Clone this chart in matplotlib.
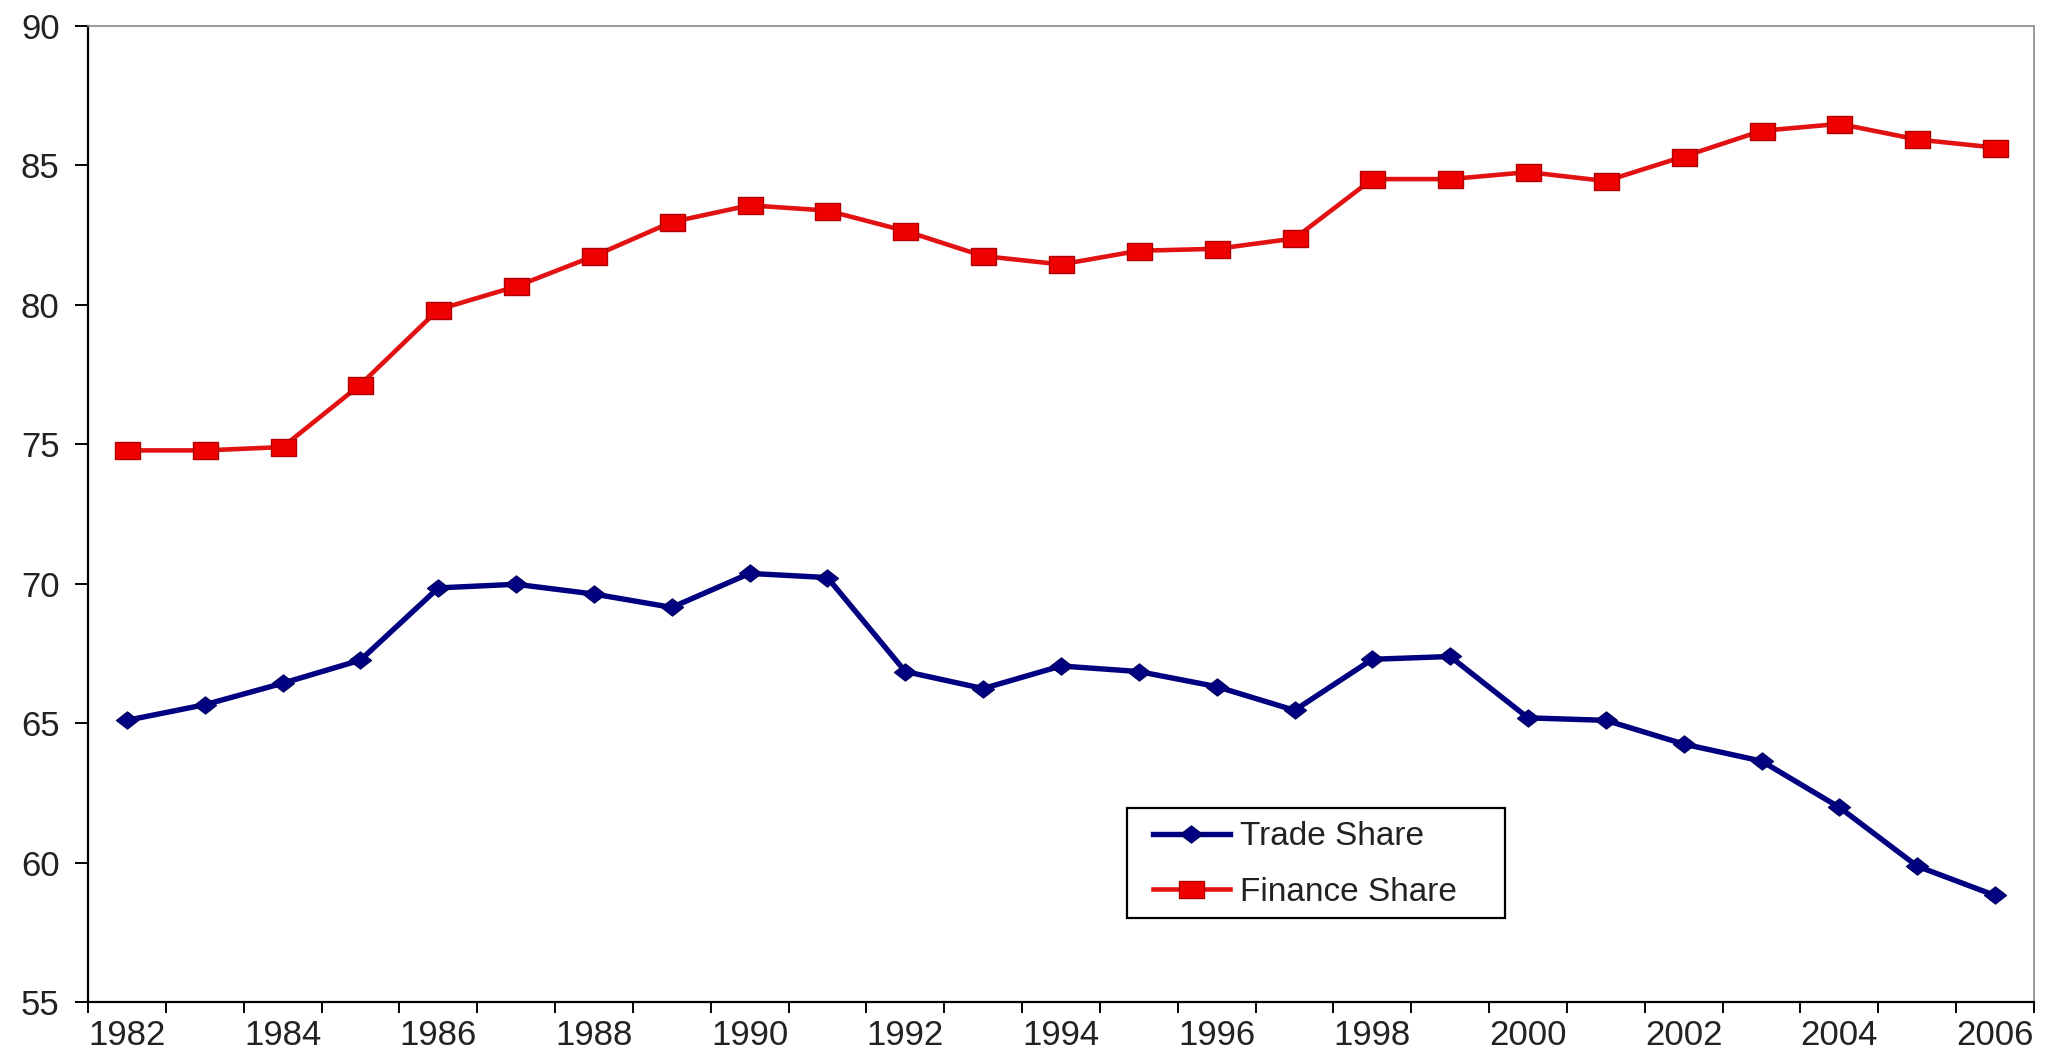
import numpy as np
import matplotlib
matplotlib.use("Agg")
import matplotlib.pyplot as plt
from matplotlib.path import Path
from matplotlib.patches import Rectangle

# -----------------------------------------------------
# data: trade share vs finance share, 1982-2006
# -----------------------------------------------------
years = list(range(1982, 2007))
trade_share = [65.1, 65.66, 66.43, 67.26, 69.85, 69.98, 69.63, 69.15, 70.37, 70.22,
               66.85, 66.24, 67.05, 66.85, 66.31, 65.46, 67.29, 67.39, 65.19, 65.1,
               64.25, 63.64, 61.98, 59.87, 58.82]
finance_share = [74.78, 74.78, 74.9, 77.14, 79.83, 80.66, 81.75, 82.97, 83.57, 83.38,
                 82.65, 81.75, 81.45, 81.94, 82.01, 82.38, 84.51, 84.51, 84.76, 84.44,
                 85.32, 86.24, 86.49, 85.93, 85.64]
y_ticks = [55, 60, 65, 70, 75, 80, 85, 90]

plt.rcParams["font.family"] = ["Liberation Sans", "DejaVu Sans"]

fig = plt.figure(figsize=(20.65, 10.63), dpi=100)
ax = fig.add_axes([88 / 2065, 1 - 1002 / 1063, (2034 - 88) / 2065, (1002 - 26) / 1063])

x = np.arange(len(years))

# wide square / flat diamond markers
rect_marker = Path([(-1, -0.68), (1, -0.68), (1, 0.68), (-1, 0.68), (-1, -0.68)],
                   [Path.MOVETO, Path.LINETO, Path.LINETO, Path.LINETO, Path.CLOSEPOLY])
diamond_marker = Path([(-1, 0), (0, 0.78), (1, 0), (0, -0.78), (-1, 0)],
                      [Path.MOVETO, Path.LINETO, Path.LINETO, Path.LINETO, Path.CLOSEPOLY])

ax.plot(x, trade_share, color="#000080", lw=3.9, marker=diamond_marker, markersize=16,
        markerfacecolor="#000080", markeredgecolor="#000060", markeredgewidth=0.8,
        label="Trade Share", zorder=3)
ax.plot(x, finance_share, color="#E31212", lw=3.3, marker=rect_marker, markersize=18,
        markerfacecolor="#EE0000", markeredgecolor="#B00000", markeredgewidth=1.0,
        label="Finance Share", zorder=3)

ax.set_xlim(-0.5, len(years) - 0.5)
ax.set_ylim(55, 90)

# y axis
ax.set_yticks(y_ticks)
ax.tick_params(axis="y", which="major", direction="out", length=9.5, width=1.4,
               pad=11, labelsize=25, labelcolor="#222222")

# x axis: labels on every second year, tick marks between categories
ax.set_xticks(x[::2])
ax.set_xticklabels([str(y) for y in years[::2]])
ax.set_xticks(np.arange(-0.5, len(years)), minor=True)
ax.tick_params(axis="x", which="major", length=0, pad=12, labelsize=25, labelcolor="#222222")
ax.tick_params(axis="x", which="minor", direction="out", length=8, width=1.4)

for side in ["left", "bottom"]:
    ax.spines[side].set_color("black")
    ax.spines[side].set_linewidth(1.6)
for side in ["top", "right"]:
    ax.spines[side].set_color("#8a8a8a")
    ax.spines[side].set_linewidth(1.2)

# legend box drawn separately so the entries can sit with a wider left margin
ax.add_patch(Rectangle((0.534, 0.086), 0.194, 0.1127, transform=ax.transAxes,
                       facecolor="white", edgecolor="black", lw=1.6, zorder=4))
leg = ax.legend(loc="upper left", bbox_to_anchor=(0.5473, 0.185), frameon=False,
                fontsize=24, numpoints=1, handlelength=2.3, handletextpad=0.3,
                labelspacing=0.74, borderpad=0, borderaxespad=0)
leg.set_zorder(5)
for t in leg.get_texts():
    t.set_color("#222222")

fig.savefig("out.png", dpi=100, facecolor="white")
